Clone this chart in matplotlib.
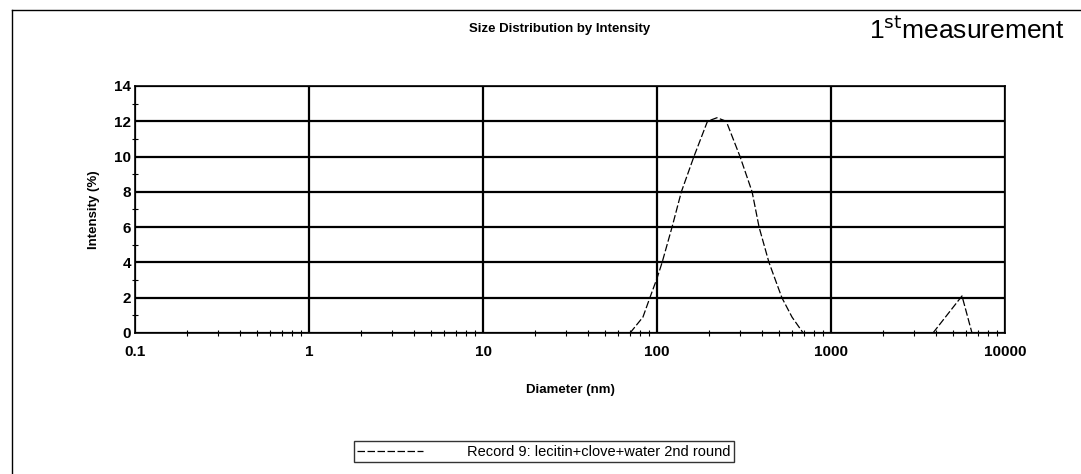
import matplotlib
matplotlib.use("Agg")
import matplotlib.pyplot as plt
from matplotlib.ticker import FixedLocator, MultipleLocator, NullFormatter
from matplotlib.lines import Line2D

# main population
main_d = [70, 83, 91, 100, 107, 122, 138, 163, 195, 221, 250, 300, 352, 386, 440, 522, 597, 692]
main_i = [0.0, 0.9, 2.0, 3.1, 4.0, 6.0, 8.0, 10.0, 12.0, 12.2, 12.0, 10.0, 8.0, 6.0, 4.0, 2.0, 0.9, 0.0]
# small large-size population
tail_d = [3855, 5660, 6460]
tail_i = [0.0, 2.1, 0.0]

xticks = [0.1, 1, 10, 100, 1000, 10000]
xlabels = ["0.1", "1", "10", "100", "1000", "10000"]
yticks = [0, 2, 4, 6, 8, 10, 12, 14]

plt.rcParams["font.family"] = ["Liberation Sans", "DejaVu Sans"]

fig = plt.figure(figsize=(10.81, 4.74), dpi=100)
# scanned page frame: only top and left edges visible
fig.lines.append(Line2D([0.011, 1.0], [0.979, 0.979], transform=fig.transFigure, color="black", lw=1.0))
fig.lines.append(Line2D([0.011, 0.011], [0.0, 0.979], transform=fig.transFigure, color="black", lw=1.0))

ax = fig.add_axes([0.1249, 0.2975, 0.8048, 0.5211])

ax.plot(main_d, main_i, color="black", lw=0.9, ls=(0, (6, 2)), label="Record 9: lecitin+clove+water 2nd round")
ax.plot(tail_d, tail_i, color="black", lw=0.9, ls=(0, (6, 2)))

ax.set_xscale("log")
ax.set_xlim(0.1, 10000)
ax.set_ylim(0, 14)
ax.xaxis.set_major_locator(FixedLocator(xticks))
ax.set_xticks(xticks)
ax.set_xticklabels(xlabels)
ax.xaxis.set_minor_formatter(NullFormatter())
ax.set_yticks(yticks)
ax.yaxis.set_minor_locator(MultipleLocator(1))
ax.grid(True, which="major", color="black", lw=1.6)
ax.tick_params(which="major", direction="in", length=0, labelsize=11, pad=9)
ax.tick_params(axis="y", which="major", pad=3)
ax.tick_params(which="minor", direction="inout", length=4, width=0.8)
for lab in ax.get_xticklabels() + ax.get_yticklabels():
    lab.set_fontweight("bold")
for s in ax.spines.values():
    s.set_linewidth(1.2)

ax.set_xlabel("Diameter (nm)", fontsize=9.5, fontweight="bold", labelpad=18)
ax.set_ylabel("Intensity (%)", fontsize=9.5, fontweight="bold", labelpad=10)

fig.text(0.518, 0.938, "Size Distribution by Intensity", ha="center", va="center",
         fontsize=9.5, fontweight="bold")
fig.text(0.804, 0.937, r"1$^{\mathrm{st}}$measurement", ha="left", va="center", fontsize=19)

leg = fig.legend(loc="center", bbox_to_anchor=(0.503, 0.047), fontsize=10.5, frameon=True,
                 fancybox=False, edgecolor="black", handlelength=4.5, borderpad=0.25,
                 handletextpad=3)
leg.get_frame().set_linewidth(1.0)

fig.savefig("out.png", dpi=100)
